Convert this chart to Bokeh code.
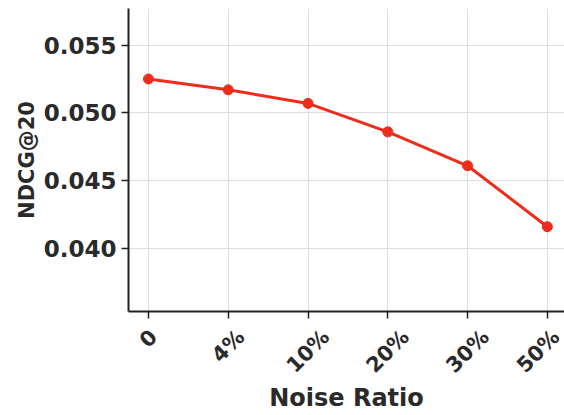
import math
from bokeh.plotting import figure
from bokeh.models import FixedTicker, Range1d, LinearAxis, CustomJSTickFormatter
from bokeh.embed import file_html
from bokeh.resources import INLINE

# Noise ratio levels and the resulting NDCG@20
noise_ratios = ["0", "4%", "10%", "20%", "30%", "50%"]
ndcg20 = [0.0525, 0.0517, 0.0507, 0.0486, 0.0461, 0.0416]
y_ticks = [0.040, 0.045, 0.050, 0.055]

xs = list(range(len(noise_ratios)))
X_START, X_END = -0.25, 5.215
Y_START, Y_END = 0.03535, 0.0577
W, H = 564, 415
LEFT, TOP, BOTTOM = 128, 8, 104

font = "DejaVu Sans"
ink = "#2a2a2a"
axis_col = "#222222"
xtick_px = 21

p = figure(width=W, height=H, output_backend="svg", toolbar_location=None,
           x_range=Range1d(X_START, X_END), y_range=Range1d(Y_START, Y_END),
           min_border_left=LEFT, min_border_right=0, min_border_top=TOP,
           min_border_bottom=BOTTOM)
p.outline_line_color = None
p.background_fill_color = "white"

line_color = "#ee2c1c"
p.line(xs, ndcg20, line_color=line_color, line_width=3)
p.scatter(xs, ndcg20, size=10, fill_color=line_color, line_color=line_color)

# y axis
yax = p.yaxis[0]
yax.ticker = FixedTicker(ticks=y_ticks)
yax.major_label_overrides = {t: f"{t:.3f}" for t in y_ticks}
yax.major_label_text_font_size = "23px"
yax.major_label_standoff = 5
yax.axis_label = "NDCG@20"
yax.axis_label_text_font_size = "21px"
yax.axis_label_standoff = 2

# x axis: spine and tick marks only
xax = p.xaxis[0]
xax.ticker = FixedTicker(ticks=xs)
xax.major_label_text_font_size = "0px"
xax.major_label_standoff = 0

for ax in (xax, yax):
    ax.axis_line_color = axis_col
    ax.axis_line_width = 2
    ax.major_tick_line_color = axis_col
    ax.major_tick_line_width = 1.5
    ax.major_tick_out = 7
    ax.major_tick_in = 0
    ax.minor_tick_line_color = None
    ax.major_label_text_font = font
    ax.major_label_text_font_style = "bold"
    ax.major_label_text_color = ink if ax is yax else None
    ax.axis_label_text_font = font
    ax.axis_label_text_font_style = "bold"
    ax.axis_label_text_color = ink

# x tick labels: rotated 45 degrees; each label's anchor is nudged right by half
# its diagonal run so the rotated text sits centred under its tick
glyph_em = {c: 0.696 for c in "0123456789"}
glyph_em["%"] = 1.002
px_per_unit = (W - LEFT) / (X_END - X_START)
label_pos = []
for i, lab in enumerate(noise_ratios):
    run = sum(glyph_em[c] for c in lab) * xtick_px
    pos = i + run / (2 * math.sqrt(2)) / px_per_unit
    label_pos.append(min(pos, X_END - 1e-4))   # keep the last anchor inside the frame

lab_ax = LinearAxis(
    ticker=FixedTicker(ticks=label_pos),
    formatter=CustomJSTickFormatter(args=dict(labels=noise_ratios),
                                    code="return labels[Math.round(tick)];"),
    axis_line_color=None, major_tick_line_color=None, minor_tick_line_color=None,
    major_tick_out=0, major_tick_in=0, major_label_standoff=15,
    major_label_orientation=math.pi / 4,
    major_label_text_font=font, major_label_text_font_style="bold",
    major_label_text_color=ink, major_label_text_font_size=f"{xtick_px}px",
    axis_label="Noise Ratio", axis_label_text_font=font,
    axis_label_text_font_style="bold", axis_label_text_color=ink,
    axis_label_text_font_size="24px",
    axis_label_standoff=-5,
)
p.add_layout(lab_ax, "below")

p.xgrid.ticker = FixedTicker(ticks=xs)
p.xgrid.grid_line_color = "#dddddd"
p.ygrid.grid_line_color = "#dddddd"

open("out.html", "w").write(file_html(p, INLINE))
